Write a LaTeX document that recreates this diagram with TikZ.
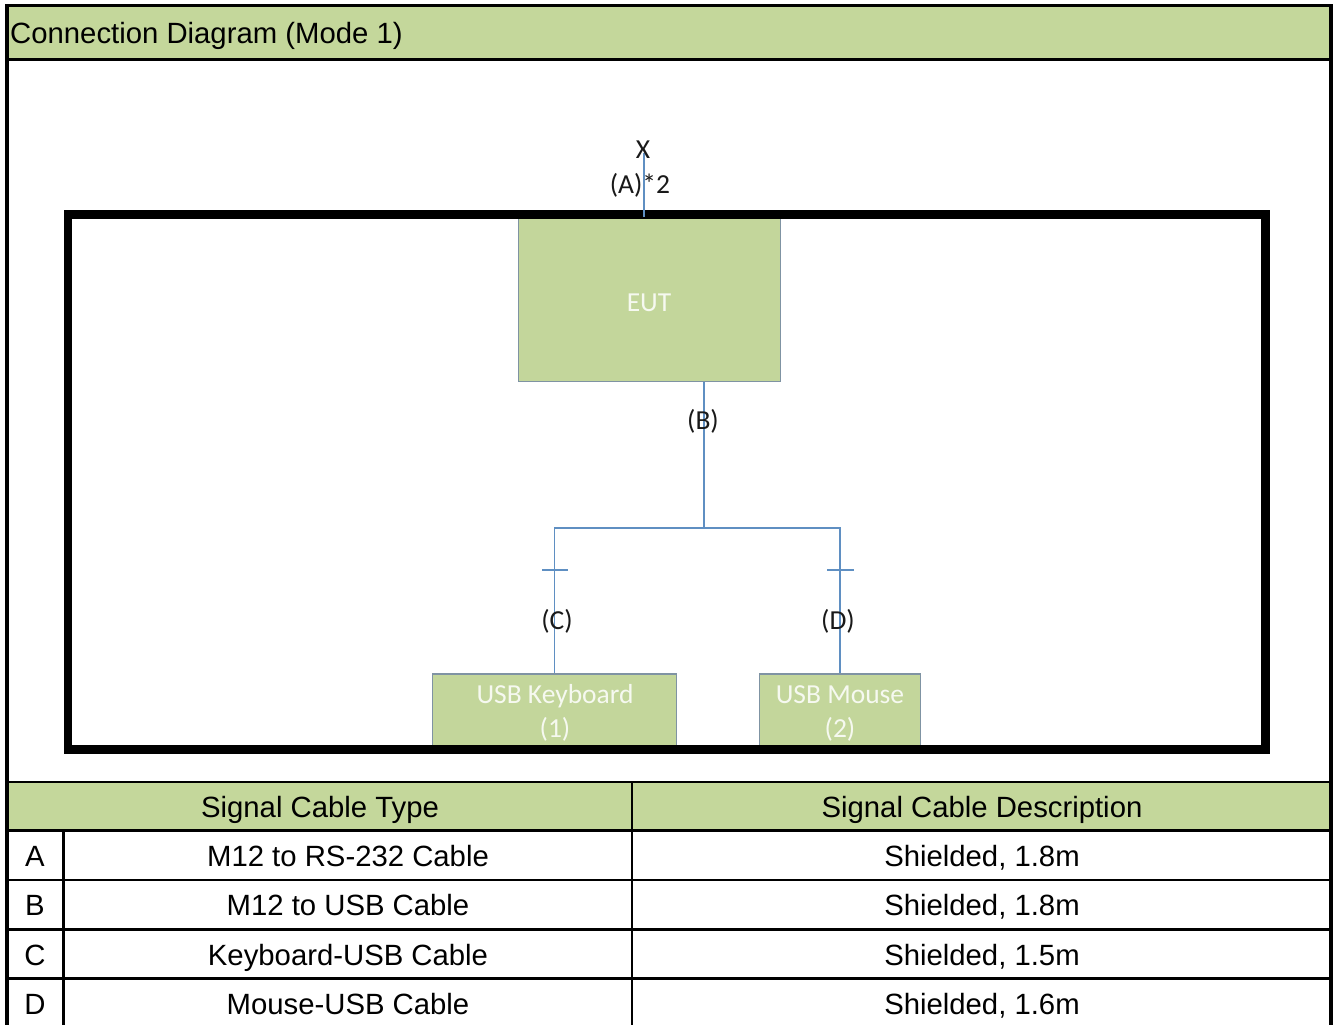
\documentclass[tikz,border=0pt]{standalone}
\usepackage{fontspec}
\setmainfont{Liberation Sans}
\newfontfamily\calib{Carlito}
\definecolor{hdrgreen}{HTML}{C4D79B}
\definecolor{boxgreen}{HTML}{C3D69B}
\definecolor{boxedge}{HTML}{7F93A3}
\definecolor{wire}{HTML}{5F8FC2}
\definecolor{boxtext}{HTML}{F6F9F0}
\tikzset{
  tabtext/.style={font=\fontsize{29.3}{34}\selectfont, inner sep=0pt, text=black,
    text height=21pt, text depth=0pt},
  unitbox/.style={draw=boxedge, line width=1.2pt, fill=boxgreen, inner sep=0pt},
  boxlabel/.style={font=\calib\fontsize{27.5}{34}\selectfont, text=boxtext, align=center, inner sep=0pt},
  wirelabel/.style={font=\calib\fontsize{27.5}{30}\selectfont, inner sep=0pt, text=black!90,
    text height=18pt, text depth=0pt},
  wireline/.style={draw=wire, line width=1.1pt},
  gridline/.style={draw=black, line width=2.5pt},
  border/.style={draw=black, line width=3.5pt},
}
\begin{document}
\begin{tikzpicture}[x=1pt,y=-1pt]
\useasboundingbox (0,0) rectangle (1336,1025);
% title band and table header band
\fill[hdrgreen] (7,5.5) rectangle (1331,59.5);
\fill[hdrgreen] (7,782) rectangle (1331,830.5);
\node[tabtext, anchor=west] (title) at (10,33) {Connection Diagram (Mode 1)};

% boxes
\node[unitbox, minimum width=262.4pt, minimum height=164pt] (eut) at (649.5,299.7) {};
\node[unitbox, minimum width=244pt, minimum height=74pt] (kb) at (554.7,711) {};
\node[unitbox, minimum width=161.4pt, minimum height=74pt] (mouse) at (840,711) {};
\node[boxlabel, text height=18pt, text depth=0pt] (eutlab) at (649,302) {EUT};
\node[boxlabel] (kblab) at (555,713) {USB Keyboard\\(1)};
\node[boxlabel] (mouselab) at (840,713) {USB Mouse\\(2)};

% thick enclosure
\draw[line width=8.5pt] (68,214.5) rectangle (1265.5,749.5);

% cable A
\coordinate (aend) at (644,153);
\draw[wireline] (aend |- eut.north) -- (aend);
\node[wirelabel] (xmark) at (643,149) {X};
\node[wirelabel] (labA) at (640,184) {(A)*2};

% cable B and branches
\coordinate (junc) at (704,528);
\draw[wireline] (eut.south -| junc) -- (junc);
\draw[wireline] (kb.north) |- (junc) -| (mouse.north);
\node[wirelabel] (labB) at (703,420) {(B)};
\coordinate (tickC) at (555,570);
\coordinate (tickD) at (840,570);
\draw[wireline] ([xshift=-13pt]tickC) -- ([xshift=13pt]tickC);
\draw[wireline] ([xshift=-13pt]tickD) -- ([xshift=14pt]tickD);
\node[wirelabel] (labC) at (557,620) {(C)};
\node[wirelabel] (labD) at (838,620) {(D)};

% outer frame and table grid
\draw[gridline] (7,59.5) -- (1331,59.5);
\draw[gridline] (7,782) -- (1331,782);
\draw[gridline] (7,830.5) -- (1331,830.5);
\draw[gridline] (7,880) -- (1331,880);
\draw[gridline] (7,929.7) -- (1331,929.7);
\draw[gridline] (7,978.7) -- (1331,978.7);
\draw[gridline] (63.7,830.5) -- (63.7,1030);
\draw[gridline] (632,782) -- (632,1030);
\draw[border] (7,1030) -- (7,5.5) -- (1331,5.5) -- (1331,1030);

% table text
\node[tabtext] (h1) at (320,807) {Signal Cable Type};
\node[tabtext] (h2) at (982,807) {Signal Cable Description};
\node[tabtext] (ra) at (35,856) {A};
\node[tabtext] (rb) at (35,905) {B};
\node[tabtext] (rc) at (35,955) {C};
\node[tabtext] (rd) at (35,1004) {D};
\node[tabtext] (ta) at (348,856) {M12 to RS-232 Cable};
\node[tabtext] (tb) at (348,905) {M12 to USB Cable};
\node[tabtext] (tc) at (348,955) {Keyboard-USB Cable};
\node[tabtext] (td) at (348,1004) {Mouse-USB Cable};
\node[tabtext] (da) at (982,856) {Shielded, 1.8m};
\node[tabtext] (db) at (982,905) {Shielded, 1.8m};
\node[tabtext] (dc) at (982,955) {Shielded, 1.5m};
\node[tabtext] (dd) at (982,1004) {Shielded, 1.6m};
\end{tikzpicture}
\end{document}
